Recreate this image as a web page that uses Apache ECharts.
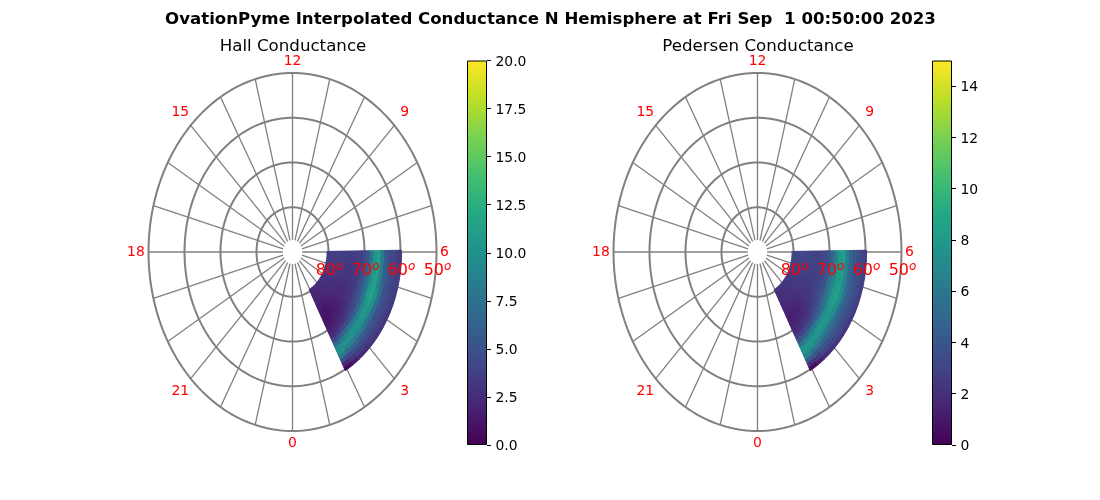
<!DOCTYPE html>
<html><head><meta charset="utf-8">
<style>html,body{margin:0;padding:0;background:#fff}#c{width:1100px;height:500px}</style>
<script src="https://cdn.jsdelivr.net/npm/echarts@6/dist/echarts.min.js"></script>
</head><body><div id="c"></div>
<script>
const mainTitle = 'OvationPyme Interpolated Conductance N Hemisphere at Fri Sep  1 00:50:00 2023';
const panelTitles = ['Hall Conductance', 'Pedersen Conductance'];
const ringLats = [80, 70, 60, 50];
const spokeHours = [0,1,2,3,4,5,6,7,8,9,10,11,12,13,14,15,16,17,18,19,20,21,22,23];
const hourLabels = [12, 15, 18, 21, 0, 3, 6, 9];
const hourLabelLats = [47.3, 45.9, 46.5, 45.9, 47.3, 45.9, 47.8, 45.9];
const hallTicks = [0, 2.5, 5, 7.5, 10, 12.5, 15, 17.5, 20];
const pedersenTicks = [0, 2, 4, 6, 8, 10, 12, 14];
const hallMax = 20, pedersenMax = 15;
const mltEdges = [1.93,2.25,2.5,2.75,3,3.25,3.5,3.75,4,4.25,4.5,4.75,5,5.25,5.5,5.75,6.05];
const latEdges = [59.7,60.7,61.7,62.7,63.7,64.7,65.7,66.7,67.7,68.7,69.7,70.7,71.7,72.7,73.7,74.7,75.7,76.7,77.7,78.7,79.7,80.4];
const viridis = ['#440154','#482475','#414487','#355f8d','#2a788e','#21918c','#22a884','#44bf70','#7ad151','#bddf26','#fde725'];

const hall60 = [0.6,1.5,2.2,2.6,2.8,3,3,3.1,3.2,3.2,3.3,3.4,3.5,3.5,3.5,3.4];
const hall61 = [2.2,3,3.4,3.6,3.6,3.7,3.7,3.8,3.8,3.8,3.8,3.9,3.9,3.9,3.9,3.8];
const hall62 = [4.8,4.6,4.8,4.6,4.6,4.6,4.5,4.4,4.4,4.4,4.4,4.4,4.4,4.4,4.3,4.2];
const hall63 = [8,6.8,6.6,6.2,5.8,5.6,5.4,5.2,5.2,5.2,5.2,5,5,5,4.8,4.6];
const hall64 = [9.8,9.2,8.6,8.2,8,7.8,7.4,7,7,7.2,7,6.6,6.4,6.2,6,5.8];
const hall65 = [9.6,10,10,10,9.8,9.6,9.6,9.6,9.8,10,9.6,8.8,8.6,8.4,8.4,8.4];
const hall66 = [7,8,9.2,9.8,10.2,10,10.4,10.8,11.2,11.8,11.6,11.2,11.2,11.2,11.2,11.2];
const hall67 = [4.5,5.6,6.8,7.6,8.2,8.4,9,9.6,10,10.6,10.6,10.4,10.4,10.4,10.4,10.4];
const hall68 = [2.8,3.3,4,4.6,5.2,5.6,6.2,6.8,7.4,7.8,8,8,8,8,7.8,7.6];
const hall69 = [2,2.3,2.8,3.2,3.6,4.2,4.6,5,5.4,5.8,6,6,5.9,5.7,5.5,5.3];
const hall70 = [1.5,1.8,2.1,2.5,2.8,3.3,3.7,4.1,4.4,4.6,4.8,4.8,4.6,4.5,4.4,4.2];
const hall71 = [1.2,1.4,1.6,1.9,2.2,2.5,2.8,3.1,3.3,3.5,3.6,3.7,3.7,3.7,3.7,3.7];
const hall72 = [1.1,1.1,1.4,1.6,1.9,2.2,2.5,2.8,3,3.2,3.3,3.4,3.5,3.5,3.5,3.5];
const hall73 = [1.1,1,1.2,1.5,1.7,2,2.2,2.5,2.7,2.8,3,3,3.2,3.3,3.4,3.5];
const hall74 = [1.2,1.1,1.3,1.5,1.7,2,2.2,2.4,2.6,2.7,2.9,3,3.1,3.3,3.4,3.5];
const hall75 = [1.4,1.4,1.5,1.7,1.9,2.1,2.3,2.5,2.7,2.8,3,3.1,3.2,3.4,3.5,3.6];
const hall76 = [1.6,1.7,1.8,1.9,2.1,2.3,2.5,2.6,2.8,2.9,3.1,3.2,3.3,3.5,3.6,3.7];
const hall77 = [1.9,1.9,2,2.1,2.3,2.4,2.6,2.7,2.9,3,3.2,3.3,3.4,3.5,3.6,3.7];
const hall78 = [2,2.1,2.2,2.3,2.4,2.6,2.7,2.9,3,3.1,3.2,3.3,3.5,3.6,3.6,3.7];
const hall79 = [2.1,2.2,2.3,2.4,2.5,2.7,2.8,2.9,3,3.2,3.3,3.4,3.5,3.6,3.6,3.7];
const hall80 = [2.2,2.3,2.4,2.5,2.6,2.8,2.9,3,3.1,3.2,3.3,3.4,3.5,3.6,3.6,3.6];

const ped60 = [0.5,1.2,1.8,2,2.2,2.4,2.4,2.5,2.6,2.6,2.7,2.8,2.8,2.8,2.8,2.8];
const ped61 = [2,2.6,3,3,3.1,3.1,3.1,3.2,3.2,3.2,3.2,3.3,3.3,3.3,3.3,3.2];
const ped62 = [4.2,3.9,4,3.9,3.8,3.8,3.7,3.7,3.7,3.7,3.7,3.7,3.7,3.7,3.6,3.6];
const ped63 = [6.4,5.6,5.4,5.1,4.8,4.6,4.5,4.4,4.4,4.4,4.4,4.3,4.3,4.2,4.1,4.1];
const ped64 = [7.6,7.2,6.8,6.4,6.2,5.9,5.7,5.4,5.4,5.5,5.4,5.2,5,5,4.9,4.8];
const ped65 = [7.6,7.8,7.8,7.7,7.5,7.4,7.3,7.2,7.4,7.5,7.3,6.9,6.7,6.6,6.5,6.4];
const ped66 = [5.8,6.4,7.2,7.6,7.8,7.8,7.8,8.1,8.3,8.6,8.5,8.2,8.2,8.2,8.2,8.2];
const ped67 = [4,4.6,5.4,6.1,6.5,6.7,7.1,7.5,7.8,8.1,8.1,8,8,8,8,8];
const ped68 = [2.7,3.1,3.5,4,4.5,4.9,5.4,5.8,6.2,6.6,6.7,6.7,6.7,6.7,6.6,6.5];
const ped69 = [2,2.2,2.6,2.9,3.3,3.7,4.1,4.6,5,5.3,5.5,5.5,5.4,5.3,5.1,5];
const ped70 = [1.6,1.8,2,2.3,2.5,2.9,3.2,3.5,3.7,3.9,4,4,4,3.9,3.8,3.7];
const ped71 = [1.4,1.5,1.7,1.9,2.1,2.4,2.7,3,3.2,3.3,3.4,3.4,3.4,3.4,3.3,3.3];
const ped72 = [1.3,1.4,1.5,1.7,1.9,2.2,2.4,2.6,2.8,2.9,3,3,3,3,3,3];
const ped73 = [1.3,1.3,1.4,1.6,1.8,2,2.2,2.4,2.5,2.6,2.7,2.8,2.8,2.9,2.9,2.9];
const ped74 = [1.4,1.4,1.5,1.6,1.8,2,2.1,2.3,2.5,2.6,2.6,2.7,2.8,2.9,2.9,2.9];
const ped75 = [1.6,1.6,1.6,1.8,1.9,2.1,2.2,2.3,2.5,2.6,2.7,2.7,2.8,2.9,3,3];
const ped76 = [1.7,1.8,1.8,1.9,2,2.2,2.3,2.4,2.5,2.6,2.7,2.8,2.9,3,3,3];
const ped77 = [1.8,1.9,2,2,2.1,2.3,2.4,2.5,2.6,2.7,2.8,2.8,2.9,3,3,3.1];
const ped78 = [1.9,2,2,2.1,2.2,2.3,2.4,2.5,2.6,2.7,2.8,2.9,2.9,3,3,3.1];
const ped79 = [2,2,2.1,2.2,2.3,2.4,2.5,2.6,2.6,2.7,2.8,2.9,3,3,3.1,3.1];
const ped80 = [2,2.1,2.1,2.2,2.3,2.4,2.5,2.6,2.7,2.8,2.8,2.9,3,3,3.1,3.1];

const hallRows = [hall60,hall61,hall62,hall63,hall64,hall65,hall66,hall67,hall68,hall69,hall70,hall71,hall72,hall73,hall74,hall75,hall76,hall77,hall78,hall79,hall80];
const pedRows = [ped60,ped61,ped62,ped63,ped64,ped65,ped66,ped67,ped68,ped69,ped70,ped71,ped72,ped73,ped74,ped75,ped76,ped77,ped78,ped79,ped80];

const FONT = '"DejaVu Sans"';
const chart = echarts.init(document.getElementById('c'), null, {renderer:'canvas'});

function toXY(mlt, lat){
  const th = (12 - mlt) * 15 * Math.PI / 180, r = 90 - lat;
  return [r * Math.sin(th), r * Math.cos(th)];
}
function cells(rows){
  const out = [];
  rows.forEach((row, i) => row.forEach((v, j) => out.push([mltEdges[j], mltEdges[j+1], latEdges[i], latEdges[i+1], v])));
  return out;
}
function heatSeries(idx, rows){
  return {
    type:'custom', xAxisIndex:idx, yAxisIndex:idx, z:3, clip:false, silent:true,
    encode:{x:0, y:2}, dimensions:['m0','m1','l0','l1','value'],
    data: cells(rows),
    renderItem(params, api){
      const m0=api.value(0), m1=api.value(1), l0=api.value(2), l1=api.value(3);
      const pts=[];
      for(let k=0;k<=4;k++) pts.push(api.coord(toXY(m0+(m1-m0)*k/4,l0)));
      for(let k=4;k>=0;k--) pts.push(api.coord(toXY(m0+(m1-m0)*k/4,l1)));
      const col=api.visual('color');
      return {type:'polygon', shape:{points:pts}, style:{fill:col, stroke:col, lineWidth:1, opacity:1}};
    }
  };
}
function netSeries(idx){
  const rings = ringLats.map(l=>['ring',l]);
  const spokes = spokeHours.map(h=>['spoke',h]);
  return {
    type:'custom', xAxisIndex:idx, yAxisIndex:idx, z:2, clip:false, silent:true,
    encode:{x:1,y:1},
    data: rings.concat(spokes),
    renderItem(params, api){
      const kind=api.value(0), v=api.value(1), pts=[];
      if(kind==='ring'){ for(let h=0;h<=240;h++) pts.push(api.coord(toXY(h/10,v))); }
      else { pts.push(api.coord(toXY(v,87.3))); pts.push(api.coord(toXY(v,50))); }
      return {type:'polyline', shape:{points:pts}, style:{fill:null, stroke:'#808080', lineWidth: kind==='ring'?2:1.3}};
    }
  };
}
function hourLabelSeries(idx){
  return {
    type:'scatter', xAxisIndex:idx, yAxisIndex:idx, symbolSize:0, z:5, silent:true, clip:false,
    itemStyle:{opacity:1},
    data: hourLabels.map((h,i)=>{ const p=toXY(h,hourLabelLats[i]); return {value:[p[0],p[1]], name:String(h)}; }),
    label:{show:true, position:'inside', formatter:p=>p.name, color:'#ff0000', fontSize:13.9, fontFamily:FONT}
  };
}
function latLabelSeries(idx){
  return {
    type:'scatter', xAxisIndex:idx, yAxisIndex:idx, symbolSize:0, z:6, silent:true, clip:false,
    itemStyle:{opacity:1},
    data: ringLats.map(l=>{ const p=toXY(6,l); return {value:[p[0],p[1]], name:String(l)}; }),
    label:{show:true, position:'inside', offset:[1,18],
      formatter:p=>'{a|'+p.name+'}{b|o}',
      rich:{a:{color:'#ff0000',fontSize:16,fontFamily:FONT,lineHeight:18,verticalAlign:'bottom'},
            b:{color:'#ff0000',fontSize:12,fontStyle:'italic',fontFamily:FONT,lineHeight:18,verticalAlign:'top'}}}
  };
}
function barSeries(idx, max){
  return {
    type:'bar', xAxisIndex:idx, yAxisIndex:idx, barWidth:'100%', silent:true, z:3, data:[max],
    itemStyle:{borderColor:'#000', borderWidth:1,
      color:{type:'linear',x:0,y:1,x2:0,y2:0,colorStops:viridis.map((c,i)=>({offset:i/(viridis.length-1),color:c}))}}
  };
}
const mapAxis = {type:'value', min:-40, max:40, show:false};
const tickStyle = {show:true, length:4, lineStyle:{color:'#000', width:1}};
function barY(grid, max, ticks, fmt){
  return {type:'value', gridIndex:grid, min:0, max:max, position:'right', splitLine:{show:false},
    axisLine:{show:false},
    axisTick:Object.assign({customValues:ticks}, tickStyle),
    axisLabel:{customValues:ticks, margin:8.5, color:'#000', fontSize:13.9, fontFamily:FONT, verticalAlign:'top', lineHeight:3, formatter:fmt}};
}
chart.setOption({
  animation:false,
  backgroundColor:'#fff',
  title:[
    {text:mainTitle, left:545.5, top:6, textAlign:'center', textStyle:{fontFamily:FONT, fontSize:16.6, fontWeight:'bold', color:'#000'}},
    {text:panelTitles[0], left:288, top:33.5, textAlign:'center', textStyle:{fontFamily:FONT, fontSize:16.67, fontWeight:'normal', color:'#000'}},
    {text:panelTitles[1], left:753, top:33.5, textAlign:'center', textStyle:{fontFamily:FONT, fontSize:16.67, fontWeight:'normal', color:'#000'}}
  ],
  visualMap:[
    {show:false, type:'continuous', seriesIndex:0, dimension:4, min:0, max:hallMax, inRange:{color:viridis}},
    {show:false, type:'continuous', seriesIndex:1, dimension:4, min:0, max:pedersenMax, inRange:{color:viridis}}
  ],
  grid:[
    {left:148.5, top:73, width:288, height:358},
    {left:613.5, top:73, width:288, height:358},
    {left:467, top:60.5, width:20, height:384.5},
    {left:932, top:60.5, width:20, height:384.5}
  ],
  xAxis:[
    Object.assign({gridIndex:0},mapAxis), Object.assign({gridIndex:1},mapAxis),
    {type:'category', gridIndex:2, data:[''], show:false},
    {type:'category', gridIndex:3, data:[''], show:false}
  ],
  yAxis:[
    Object.assign({gridIndex:0},mapAxis), Object.assign({gridIndex:1},mapAxis),
    barY(2, hallMax, hallTicks, v=>v.toFixed(1)),
    barY(3, pedersenMax, pedersenTicks, v=>String(v))
  ],
  series:[
    heatSeries(0, hallRows), heatSeries(1, pedRows),
    netSeries(0), netSeries(1),
    hourLabelSeries(0), hourLabelSeries(1),
    latLabelSeries(0), latLabelSeries(1),
    barSeries(2, hallMax), barSeries(3, pedersenMax)
  ]
});
</script></body></html>
